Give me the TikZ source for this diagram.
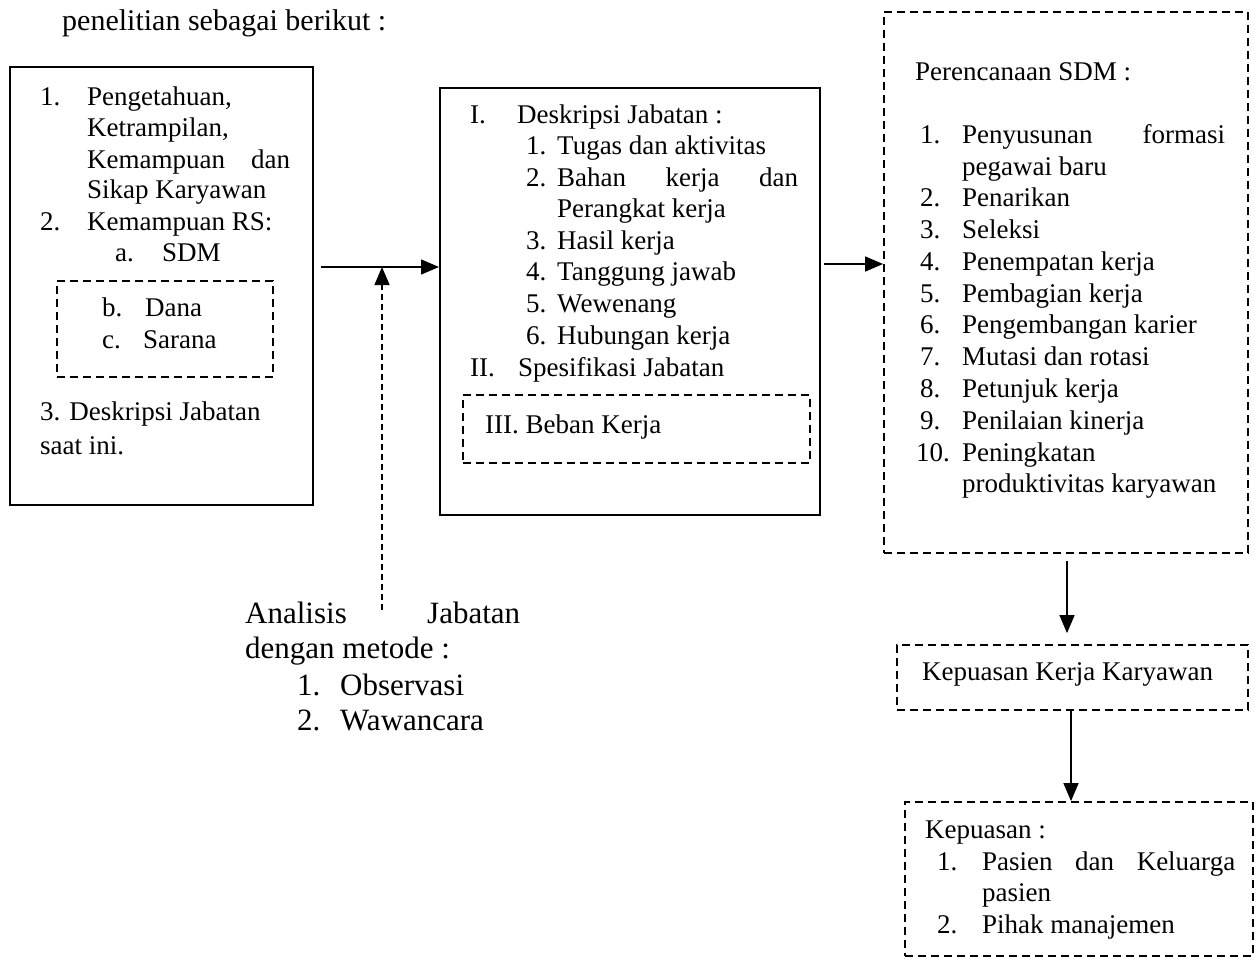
\documentclass[tikz,border=0pt]{standalone}
\usepackage{fontspec}
\setmainfont{Liberation Serif}
\usetikzlibrary{arrows.meta}
\newcommand\fs{\fontsize{27}{32}\selectfont}
\newcommand\fbig{\fontsize{31}{36}\selectfont}
\newcommand\ftitle{\fontsize{30}{35}\selectfont}
\begin{document}
\begin{tikzpicture}[x=1pt,y=-1pt,
 txt/.style={inner sep=0pt, anchor=base west, font=\fs},
 btxt/.style={inner sep=0pt, anchor=base west, font=\fbig},
 solidbox/.style={draw, line width=2pt, inner sep=0pt},
 dashbox/.style={draw, line width=1.8pt, dash pattern=on 8pt off 5pt, inner sep=0pt},
 arr/.style={line width=1.5pt, -{Triangle[length=18pt,width=15pt]}},
 darr/.style={line width=1.3pt, dash pattern=on 6pt off 4pt, -{Triangle[length=18pt,width=15pt]}}]
\useasboundingbox (0,0) rectangle (1255,958);

% title
\node[inner sep=0pt, anchor=base west, font=\ftitle] (title) at (62,31) {penelitian sebagai berikut :};

% boxes
\node[solidbox, minimum width=303pt, minimum height=438pt] (lb) at (161.5,286) {};
\node[dashbox, minimum width=216pt, minimum height=96pt] (lbi) at (165,329) {};
\node[solidbox, minimum width=380pt, minimum height=427pt] (mb) at (630,301.5) {};
\node[dashbox, minimum width=347pt, minimum height=68pt] (mbi) at (636.5,429) {};
\node[dashbox, minimum width=364pt, minimum height=541pt] (rb) at (1066,282.5) {};
\node[dashbox, minimum width=351pt, minimum height=65pt] (kb) at (1072.5,677.5) {};
\node[dashbox, minimum width=348pt, minimum height=154pt] (pb) at (1079,879) {};

% left box text
\node[txt] (l1n) at (40,105) {1.};
\node[txt] (l1) at (87,105) {Pengetahuan,};
\node[txt] (l2) at (87,136) {Ketrampilan,};
\node[txt] (l3) at (87,168) {\makebox[203pt][s]{Kemampuan dan}};
\node[txt] (l4) at (87,198) {Sikap Karyawan};
\node[txt] (l5n) at (40,230) {2.};
\node[txt] (l5) at (87,230) {Kemampuan RS:};
\node[txt] (l6n) at (115,261) {a.};
\node[txt] (l6) at (162,261) {SDM};
\node[txt] (l7n) at (102,316) {b.};
\node[txt] (l7) at (145,316) {Dana};
\node[txt] (l8n) at (102,348) {c.};
\node[txt] (l8) at (143,348) {Sarana};
\node[txt] (l9) at (40,420) {3. Deskripsi Jabatan};
\node[txt] (l10) at (40,454) {saat ini.};

% middle box text
\node[txt] (m1n) at (470,123) {I.};
\node[txt] (m1) at (517,123) {Deskripsi Jabatan :};
\node[txt] (m2n) at (526,154) {1.};
\node[txt] (m2) at (557,154) {Tugas dan aktivitas};
\node[txt] (m3n) at (526,186) {2.};
\node[txt] (m3) at (557,186) {\makebox[241pt][s]{Bahan kerja dan}};
\node[txt] (m4) at (557,217) {Perangkat kerja};
\node[txt] (m5n) at (526,249) {3.};
\node[txt] (m5) at (557,249) {Hasil kerja};
\node[txt] (m6n) at (526,280) {4.};
\node[txt] (m6) at (557,280) {Tanggung jawab};
\node[txt] (m7n) at (526,312) {5.};
\node[txt] (m7) at (557,312) {Wewenang};
\node[txt] (m8n) at (526,344) {6.};
\node[txt] (m8) at (557,344) {Hubungan kerja};
\node[txt] (m9n) at (470,376) {II.};
\node[txt] (m9) at (518,376) {Spesifikasi Jabatan};
\node[txt] (m10) at (485,433) {III. Beban Kerja};

% right box text
\node[txt] (r0) at (915,81) {Perencanaan SDM :};
\node[txt] (r1n) at (920,143) {1.};
\node[txt] (r1) at (962,143) {\makebox[263pt][s]{Penyusunan formasi}};
\node[txt] (r1b) at (962,175) {pegawai baru};
\node[txt] (r2n) at (920,206) {2.};
\node[txt] (r2) at (962,206) {Penarikan};
\node[txt] (r3n) at (920,238) {3.};
\node[txt] (r3) at (962,238) {Seleksi};
\node[txt] (r4n) at (920,270) {4.};
\node[txt] (r4) at (962,270) {Penempatan kerja};
\node[txt] (r5n) at (920,302) {5.};
\node[txt] (r5) at (962,302) {Pembagian kerja};
\node[txt] (r6n) at (920,333) {6.};
\node[txt] (r6) at (962,333) {Pengembangan karier};
\node[txt] (r7n) at (920,365) {7.};
\node[txt] (r7) at (962,365) {Mutasi dan rotasi};
\node[txt] (r8n) at (920,397) {8.};
\node[txt] (r8) at (962,397) {Petunjuk kerja};
\node[txt] (r9n) at (920,429) {9.};
\node[txt] (r9) at (962,429) {Penilaian kinerja};
\node[txt] (r10n) at (916,461) {10.};
\node[txt] (r10) at (962,461) {Peningkatan};
\node[txt] (r10b) at (962,492) {produktivitas karyawan};

% satisfaction boxes text
\node[txt] (k1) at (922,680) {Kepuasan Kerja Karyawan};
\node[txt] (p0) at (925,838) {Kepuasan :};
\node[txt] (p1n) at (937,870) {1.};
\node[txt] (p1) at (982,870) {\makebox[253pt][s]{Pasien dan Keluarga}};
\node[txt] (p1b) at (982,901) {pasien};
\node[txt] (p2n) at (937,933) {2.};
\node[txt] (p2) at (982,933) {Pihak manajemen};

% analisis text
\node[btxt] (a1) at (245,623) {\makebox[275pt][s]{Analisis Jabatan}};
\node[btxt] (a2) at (245,658) {dengan metode :};
\node[btxt] (a3n) at (297,695) {1.};
\node[btxt] (a3) at (340,695) {Observasi};
\node[btxt] (a4n) at (297,730) {2.};
\node[btxt] (a4) at (340,730) {Wawancara};

% connectors
\coordinate (h1) at (0,267);
\coordinate (h2) at (0,264);
\coordinate (vj) at (382,267);
\coordinate (vs) at (382,610);
\coordinate (c1) at (1067,0);
\coordinate (c2) at (1071,0);
\draw[arr] ([xshift=7pt]lb.east |- h1) -- (mb.west |- h1);
\draw[arr] ([xshift=3pt]mb.east |- h2) -- (rb.west |- h2);
\draw[darr] (vs) -- (vj);
\draw[arr] ([yshift=-7pt]rb.south -| c1) -- ([yshift=11pt]kb.north -| c1);
\draw[arr] (kb.south -| c2) -- (pb.north -| c2);
\end{tikzpicture}
\end{document}
